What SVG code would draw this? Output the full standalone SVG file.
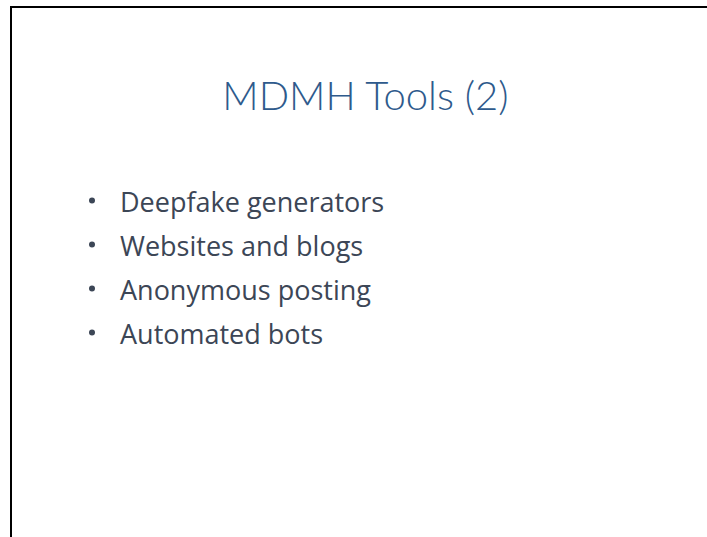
<svg xmlns="http://www.w3.org/2000/svg" width="707" height="537" viewBox="0 0 707 537">
<style>
.title{font-family:"Lato","Open Sans","Liberation Sans",sans-serif;font-weight:300;font-size:40px;fill:#2E5A8C}
.item{font-family:"Open Sans","Liberation Sans",sans-serif;font-size:27px;fill:#3C4656}
.dot{fill:#3C4656}
</style>
<rect x="0" y="0" width="707" height="537" fill="#ffffff"/>
<rect id="frame" x="11" y="7" width="720" height="560" fill="none" stroke="#000000" stroke-width="2"/>
<g id="title"><text class="title" x="365.5" y="110" text-anchor="middle">MDMH Tools (2)</text></g>
<g id="bullets">
<g id="b1"><circle class="dot" cx="92" cy="200.5" r="3"/><text class="item" x="120" y="212">Deepfake generators</text></g>
<g id="b2"><circle class="dot" cx="92" cy="244.5" r="3"/><text class="item" x="120" y="256">Websites and blogs</text></g>
<g id="b3"><circle class="dot" cx="92" cy="288.5" r="3"/><text class="item" x="120" y="300">Anonymous posting</text></g>
<g id="b4"><circle class="dot" cx="92" cy="332.5" r="3"/><text class="item" x="120" y="344">Automated bots</text></g>
</g>
</svg>
